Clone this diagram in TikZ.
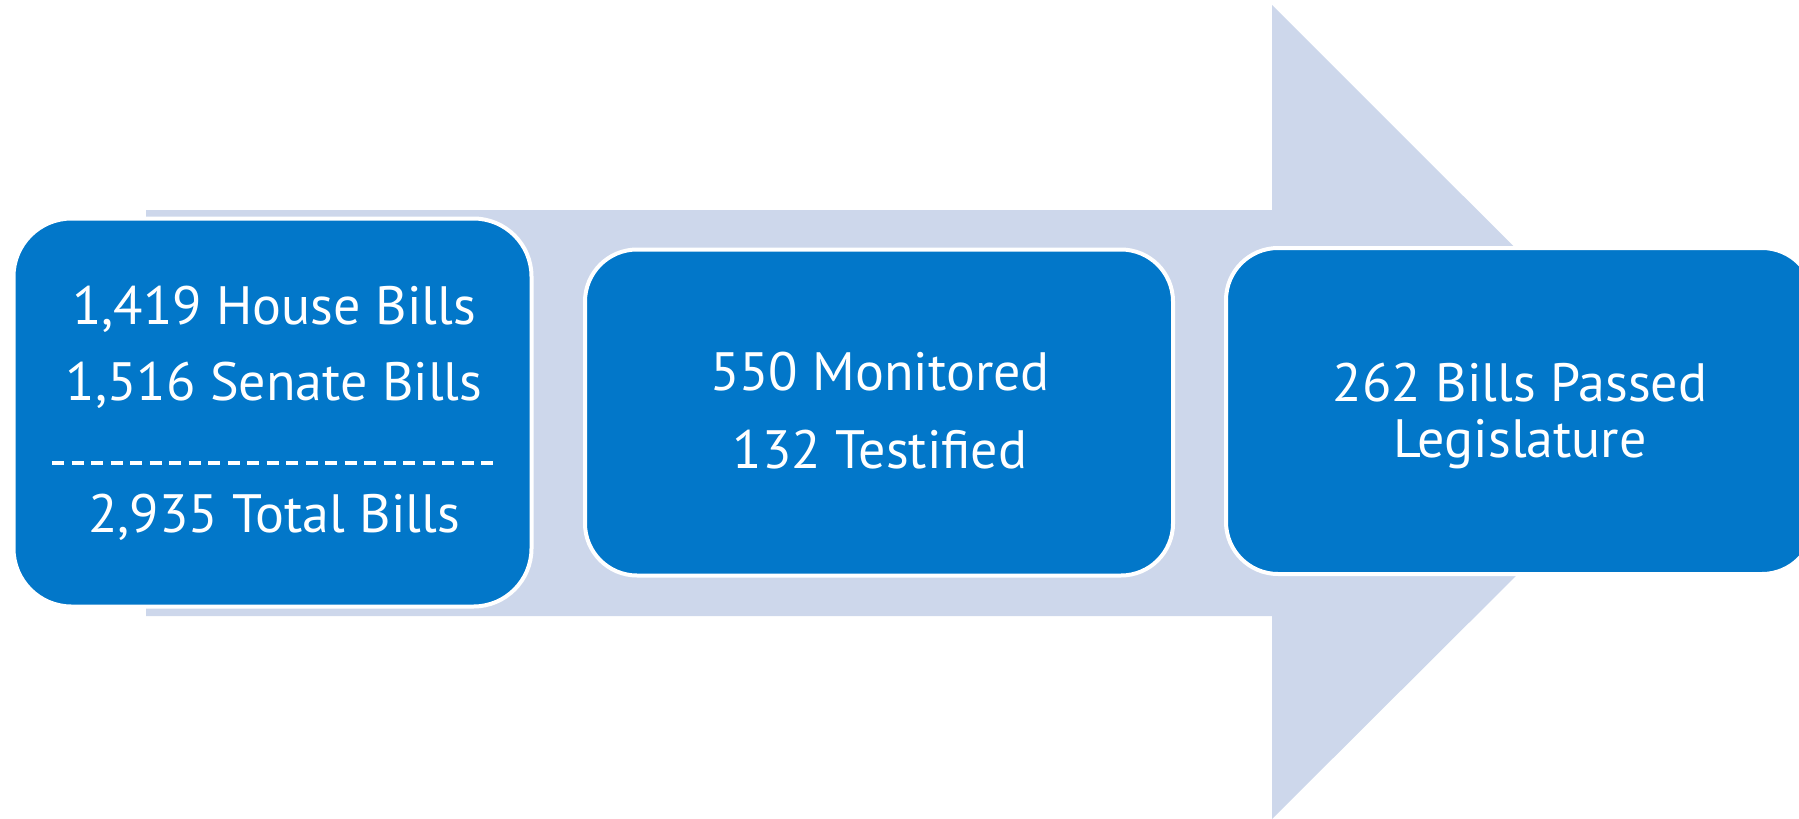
\documentclass[tikz,border=0pt]{standalone}
\usepackage{fontspec}
\setmainfont{PT Sans}
\usetikzlibrary{positioning}
\definecolor{billblue}{RGB}{2,119,201}
\definecolor{bandgray}{RGB}{205,215,235}

\begin{document}
\begin{tikzpicture}[x=0.5pt,y=-0.5pt,
    stage/.style={draw=white,line width=2pt,fill=billblue,rounded corners=26pt,
                  inner sep=0pt,minimum width=294pt,minimum height=163pt},
    txt/.style={text=white,font=\fontsize{27pt}{38pt}\selectfont,anchor=base,inner sep=0pt}]
  \useasboundingbox (0,0) rectangle (1799,819);
  % big arrow behind
  \fill[bandgray] (146,210) -- (1272,210) -- (1272,5) -- (1680,412.5)
                  -- (1272,819) -- (1272,616) -- (146,616) -- cycle;
  % the three stages
  \node[stage,rounded corners=29pt,minimum width=259pt,minimum height=194pt] (intro) at (272.5,412.5) {};
  \node[stage] (watch) at (879,412.5) {};
  \node[stage] (pass) at (1520,411) {};
  % intro text
  \node[txt] (house) at (274,324) {1,419 House Bills};
  \node[txt] (senate) at (274,400) {1,516 Senate Bills};
  \draw[white,line width=2.35pt,dash pattern=on 6pt off 3.75pt] (52,463) -- (493,463);
  \node[txt] (total) at (274,532) {2,935 Total Bills};
  % watch text
  \node[txt] (monitored) at (880,390) {550 Monitored};
  \node[txt] (testified) at (880,468) {132 Testified};
  % pass text
  \node[txt] (passed) at (1520,401) {262 Bills Passed};
  \node[txt] (legis) at (1520,457) {Legislature};
\end{tikzpicture}
\end{document}
